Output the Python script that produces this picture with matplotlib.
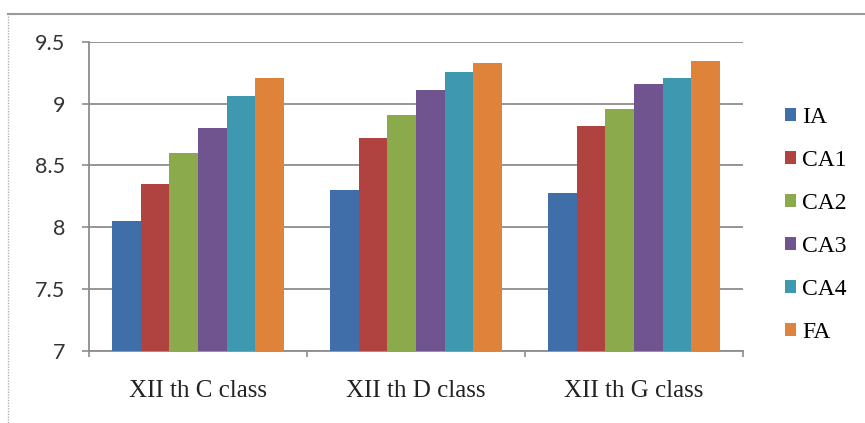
import matplotlib
matplotlib.use("Agg")
import matplotlib.pyplot as plt
from matplotlib.lines import Line2D
from matplotlib.patches import Patch
import numpy as np

categories = ["XII th C class", "XII th D class", "XII th G class"]
series = ["IA", "CA1", "CA2", "CA3", "CA4", "FA"]
IA = [8.05, 8.30, 8.28]
CA1 = [8.35, 8.72, 8.82]
CA2 = [8.60, 8.91, 8.96]
CA3 = [8.80, 9.11, 9.16]
CA4 = [9.06, 9.26, 9.21]
FA = [9.21, 9.33, 9.35]
yticks = [7, 7.5, 8, 8.5, 9, 9.5]
ytick_labels = ["7", "7.5", "8", "8.5", "9", "9.5"]

values = [IA, CA1, CA2, CA3, CA4, FA]
colors = ["#3F6EA8", "#B04340", "#8BAA4B", "#6F548F", "#3E98B0", "#E0833A"]

W, H = 865, 423
fig = plt.figure(figsize=(W / 100, H / 100), dpi=100)
fig.patch.set_facecolor("white")

ax = fig.add_axes([89 / W, 1 - 350.7 / H, (743 - 89) / W, (350.7 - 42) / H])

x = np.arange(len(categories))
bw = 0.131
for i, (name, vals) in enumerate(zip(series, values)):
    ax.bar(x + (i - 2.5) * bw, np.array(vals) - 7, bottom=7, width=bw,
           color=colors[i], label=name, zorder=3, linewidth=0)

ax.set_xlim(-0.5, len(categories) - 0.5)
ax.set_ylim(7, 9.5)

grid_c = "#8C8C8C"
ax.set_yticks(yticks)
ax.set_yticklabels(ytick_labels, fontfamily="Lato", fontsize=15.5, color="#333333")
ax.yaxis.grid(True, color=grid_c, linewidth=1.3, zorder=0)
ax.set_axisbelow(True)
ax.tick_params(axis="y", length=5, width=1.2, color=grid_c, pad=12)

ax.set_xticks(x)
ax.set_xticklabels(categories, fontfamily="Liberation Serif", fontsize=18, color="#222222")
ax.tick_params(axis="x", length=0, pad=21)
ax.set_xticks(np.arange(-0.5, len(categories)), minor=True)
ax.tick_params(axis="x", which="minor", length=4, width=1.2, color=grid_c)

for s in ["top", "right"]:
    ax.spines[s].set_visible(False)
for s in ["left", "bottom"]:
    ax.spines[s].set_color(grid_c)
    ax.spines[s].set_linewidth(1.3)

handles = [Patch(facecolor=c, edgecolor="none") for c in colors]
fig.legend(handles, series, loc="center left", bbox_to_anchor=(785 / W, 1 - 225 / H),
           frameon=False, borderpad=0, borderaxespad=0, handlelength=0.47,
           handleheight=0.47, handletextpad=0.25, labelspacing=0.93,
           prop={"family": "Liberation Serif", "size": 17})

# outer frame
fig.add_artist(Line2D([8 / W, 1], [1 - 14 / H, 1 - 14 / H], transform=fig.transFigure,
                      color="#9A9A9A", linewidth=1.5))
fig.add_artist(Line2D([8 / W, 8 / W], [0, 1 - 14 / H], transform=fig.transFigure,
                      color="#B0B0B0", linewidth=1.0, linestyle=(0, (1, 1))))

fig.savefig("out.png", dpi=100, facecolor="white")
